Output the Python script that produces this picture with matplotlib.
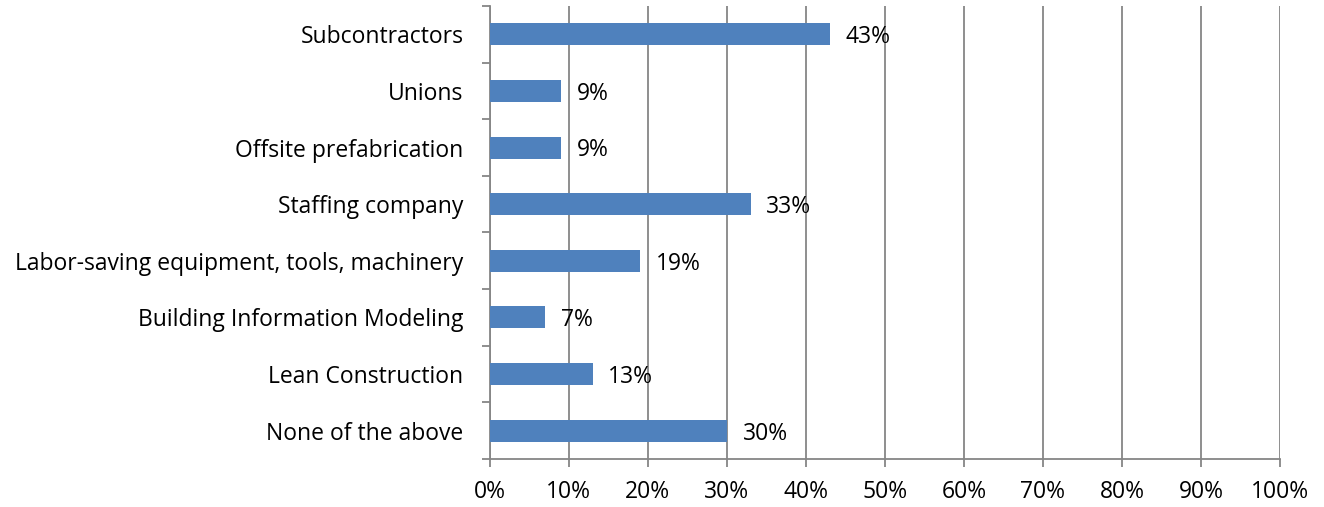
import numpy as np
import matplotlib.pyplot as plt

categories = ["Subcontractors", "Unions", "Offsite prefabrication", "Staffing company",
              "Labor-saving equipment, tools, machinery", "Building Information Modeling",
              "Lean Construction", "None of the above"]
values = [43, 9, 9, 33, 19, 7, 13, 30]
xticks = list(range(0, 101, 10))

plt.rcParams['font.family'] = ['Open Sans', 'DejaVu Sans']
fs = 16.5

fig = plt.figure(figsize=(13.24, 5.07), dpi=100)
ax = fig.add_axes([0.370, 0.0947, 0.5967, 0.8935])

n = len(categories)
y = np.arange(n)[::-1]
ax.barh(y, values, height=0.39, color='#4F81BD', zorder=3)

for yi, v in zip(y, values):
	ax.text(v + 2.0, yi - 0.05, "{}%".format(v), va='center', ha='left', fontsize=fs, zorder=4)

ax.set_xlim(0, 100)
ax.set_ylim(-0.5, n - 0.5)

ax.set_xticks(xticks)
ax.set_xticklabels(["{}%".format(t) for t in xticks], fontsize=fs)
ax.set_yticks(y)
ax.set_yticklabels(categories, fontsize=fs)
ax.set_yticks(np.arange(n + 1) - 0.5, minor=True)

gray = '#868686'
ax.xaxis.grid(True, color=gray, linewidth=1.3, zorder=0)
ax.tick_params(axis='y', which='major', length=0, pad=19)
ax.tick_params(axis='y', which='minor', length=6, color=gray, width=1.3)
ax.tick_params(axis='x', length=6, color=gray, width=1.3, pad=9)

for s in ['top', 'right']:
	ax.spines[s].set_visible(False)
for s in ['left', 'bottom']:
	ax.spines[s].set_color(gray)
	ax.spines[s].set_linewidth(1.3)

fig.savefig("out.png", dpi=100)
